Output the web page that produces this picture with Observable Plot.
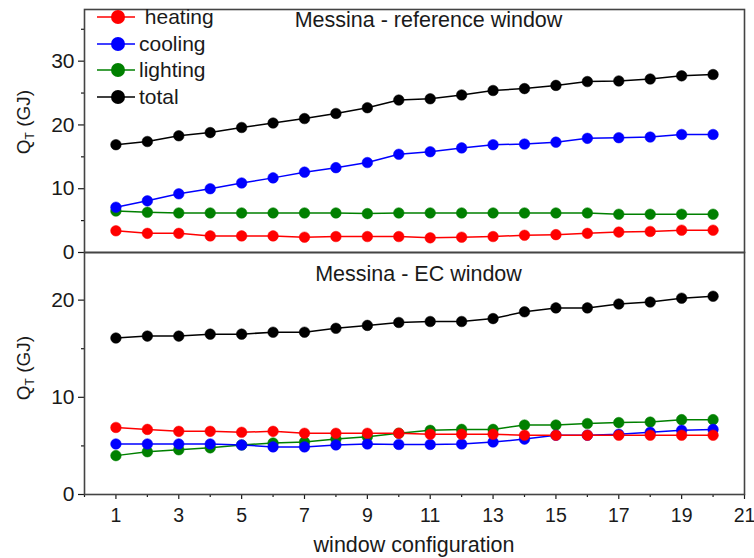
<!DOCTYPE html>
<html>
<head>
<meta charset="utf-8">
<script src="https://cdn.jsdelivr.net/npm/d3@7"></script>
<script src="https://cdn.jsdelivr.net/npm/@observablehq/plot@0.6"></script>
<style>
  body { margin: 0; background: #fff; }
  #chart { position: relative; width: 754px; height: 558px; font-family: "Liberation Sans", Arial, sans-serif; }
  #chart svg { position: absolute; left: 0; overflow: visible; }
</style>
</head>
<body>
<div id="chart"></div>
<script>
// ---- data ----
const configs = [1,2,3,4,5,6,7,8,9,10,11,12,13,14,15,16,17,18,19,20];
const seriesNames = ["heating", "cooling", "lighting", "total"];
const seriesColors = ["#ff0000", "#0000ff", "#008000", "#000000"];

const refHeating  = [3.4,3.0,3.0,2.6,2.6,2.6,2.4,2.5,2.5,2.5,2.3,2.4,2.5,2.7,2.8,3.0,3.2,3.3,3.5,3.5];
const refCooling  = [7.1,8.1,9.2,10.0,10.9,11.7,12.6,13.3,14.1,15.4,15.8,16.4,16.9,17.0,17.3,17.9,18.0,18.1,18.5,18.5];
const refLighting = [6.5,6.3,6.2,6.2,6.2,6.2,6.2,6.2,6.1,6.2,6.2,6.2,6.2,6.2,6.2,6.2,6.0,6.0,6.0,6.0];
const refTotal    = [16.9,17.4,18.3,18.8,19.6,20.3,21.0,21.8,22.7,23.9,24.1,24.7,25.4,25.7,26.2,26.8,26.9,27.2,27.7,27.9];

const ecHeating  = [6.9,6.7,6.5,6.5,6.4,6.5,6.3,6.3,6.3,6.3,6.2,6.2,6.2,6.1,6.1,6.1,6.1,6.1,6.1,6.1];
const ecCooling  = [5.2,5.2,5.2,5.2,5.1,4.9,4.9,5.1,5.2,5.15,5.15,5.2,5.4,5.7,6.1,6.1,6.2,6.4,6.6,6.7];
const ecLighting = [4.0,4.4,4.6,4.8,5.1,5.3,5.4,5.7,5.95,6.3,6.6,6.7,6.7,7.15,7.15,7.3,7.4,7.45,7.7,7.7];
const ecTotal    = [16.1,16.3,16.3,16.5,16.5,16.7,16.7,17.1,17.4,17.7,17.8,17.8,18.1,18.8,19.2,19.2,19.6,19.8,20.2,20.4];

const xMajorTicks = [1,3,5,7,9,11,13,15,17,19,21];
const xMinorTicks = [0,2,4,6,8,10,12,14,16,18,20];
const refYMajor = [0,10,20,30];
const refYMinor = [5,15,25,35];
const ecYMajor = [0,10,20];
const ecYMinor = [5,15];

const refTitle = "Messina - reference window";
const ecTitle = "Messina - EC window";
const xLabel = "window configuration";

// ---- helpers ----
function tidy(arrs) {
  const out = [];
  arrs.forEach((vals, si) => vals.forEach((v, i) => out.push({x: configs[i], y: v, series: seriesNames[si]})));
  return out;
}
const refData = tidy([refHeating, refCooling, refLighting, refTotal]);
const ecData = tidy([ecHeating, ecCooling, ecLighting, ecTotal]);
const drawOrder = ["total", "lighting", "cooling", "heating"];

function seriesMarks(data) {
  const marks = [];
  for (const s of drawOrder) {
    const col = seriesColors[seriesNames.indexOf(s)];
    const d = data.filter(r => r.series === s);
    marks.push(Plot.line(d, {x: "x", y: "y", stroke: col, strokeWidth: 1.5}));
    marks.push(Plot.dot(d, {x: "x", y: "y", fill: col, r: 5.3, stroke: col, strokeWidth: 0.5}));
  }
  return marks;
}

const W = 754;
const FONT = "'Liberation Sans', Arial, sans-serif";
const INK = "#1a1a1a";
const commonStyle = {fontFamily: FONT, fontSize: "20px", color: INK, background: "transparent", overflow: "visible"};

// ---- top panel ----
const topPanel = Plot.plot({
  width: W, height: 253,
  marginTop: 9, marginBottom: 1, marginLeft: 84, marginRight: 10,
  style: commonStyle,
  x: {domain: [0, 21], axis: null},
  y: {domain: [0, 38.1]},
  marks: [
    Plot.axisY(refYMajor, {tickSize: 6, tickPadding: 4, label: null, fontSize: 21, strokeWidth: 1.2}),
    Plot.axisY(refYMinor, {tickSize: 3, tickFormat: () => "", label: null, strokeWidth: 1.2}),
    ...seriesMarks(refData),
    Plot.text([refTitle], {frameAnchor: "top", dx: 14, dy: 2, fontSize: 21.5, fill: INK}),
    Plot.frame({stroke: "#444", strokeWidth: 1.6})
  ]
});
topPanel.style.top = "0px";

// ---- bottom panel ----
const bottomPanel = Plot.plot({
  width: W, height: 306,
  marginTop: 0, marginBottom: 64, marginLeft: 84, marginRight: 10,
  style: commonStyle,
  x: {domain: [0, 21]},
  y: {domain: [0, 24.9]},
  marks: [
    Plot.axisY(ecYMajor, {tickSize: 6, tickPadding: 4, label: null, fontSize: 21, strokeWidth: 1.2}),
    Plot.axisY(ecYMinor, {tickSize: 3, tickFormat: () => "", label: null, strokeWidth: 1.2}),
    Plot.axisX(xMajorTicks, {tickSize: 5, tickPadding: 9, label: null, fontSize: 19.5, strokeWidth: 1.2}),
    Plot.axisX(xMinorTicks, {tickSize: 3, tickFormat: () => "", label: null, strokeWidth: 1.2}),
    ...seriesMarks(ecData),
    Plot.text([ecTitle], {frameAnchor: "top", dx: 4, dy: 13, fontSize: 21.5, fill: INK}),
    Plot.frame({stroke: "#444", strokeWidth: 1.6})
  ]
});
bottomPanel.style.top = "252px";

const chart = document.getElementById("chart");
chart.appendChild(topPanel);
chart.appendChild(bottomPanel);

// ---- y-axis titles with subscript ----
function yTitle(svgEl, cy) {
  const t = d3.select(svgEl).append("text")
    .attr("transform", `translate(23,${cy}) rotate(-90)`)
    .attr("text-anchor", "middle")
    .attr("dy", "0.35em")
    .attr("font-size", 19)
    .attr("fill", INK)
    .attr("font-family", FONT);
  t.append("tspan").text("Q");
  t.append("tspan").attr("font-size", 12).attr("dy", 4).text("T");
  t.append("tspan").attr("dy", -4).text(" (GJ)");
}
yTitle(topPanel, 122);
yTitle(bottomPanel, 368 - 252);

// ---- x-axis title ----
d3.select(bottomPanel).append("text")
  .attr("x", 414).attr("y", 300)
  .attr("text-anchor", "middle")
  .attr("font-size", 21.5)
  .attr("fill", INK)
  .attr("font-family", FONT)
  .text(xLabel);

// ---- legend ----
const leg = d3.select(topPanel).append("g")
  .attr("font-family", FONT).attr("font-size", 21).attr("fill", INK).attr("text-anchor", "start");
const legLabels = [" heating", "cooling", "lighting", "total"];
const legY = [17, 44, 70, 97];
seriesNames.forEach((s, i) => {
  const g = leg.append("g").attr("transform", `translate(0,${legY[i]})`);
  g.append("line").attr("x1", 97).attr("x2", 135).attr("y1", 0).attr("y2", 0).attr("stroke", seriesColors[i]).attr("stroke-width", 1.5);
  g.append("circle").attr("cx", 118).attr("cy", 0).attr("r", 7).attr("fill", seriesColors[i]);
  g.append("text").attr("x", 139).attr("dy", "0.35em").attr("text-anchor", "start").style("white-space", "pre").text(legLabels[i]);
});
</script>
</body>
</html>
